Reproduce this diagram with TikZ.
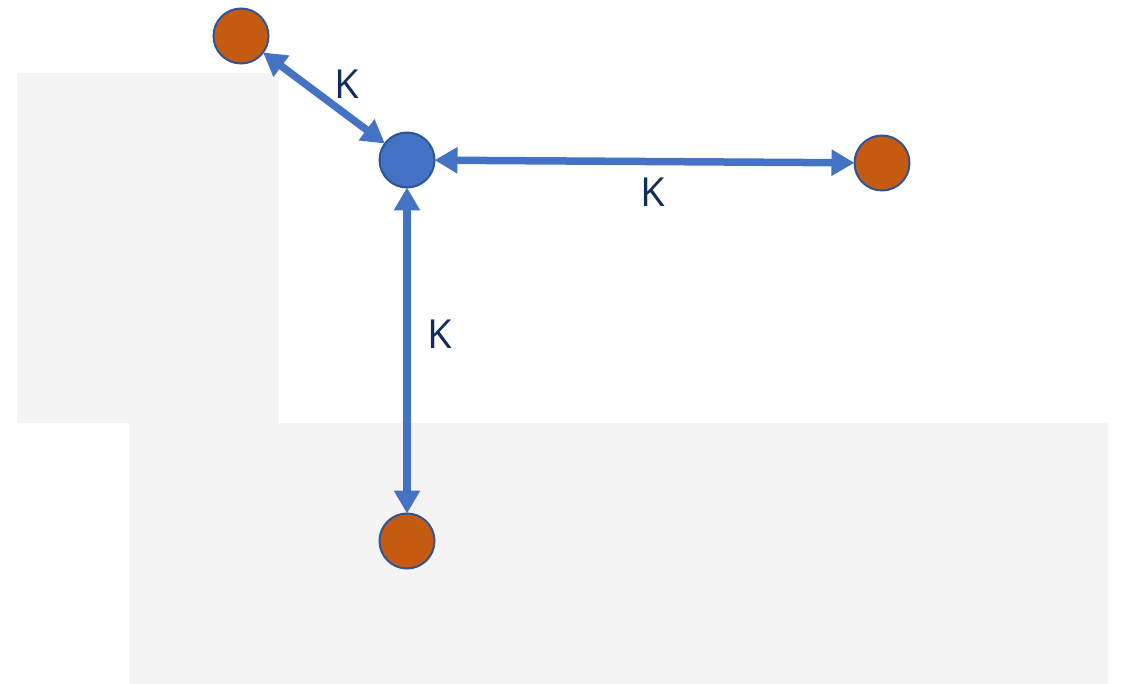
\documentclass[tikz,border=0pt]{standalone}
\usepackage{fontspec}
\setmainfont{Open Sans}
\usetikzlibrary{arrows.meta}
\definecolor{ablue}{HTML}{4472C4}
\definecolor{aorange}{HTML}{C55A11}
\definecolor{aedge}{HTML}{2F5597}
\definecolor{agray}{HTML}{F4F4F4}
\definecolor{atext}{HTML}{0F2D5C}
\tikzset{
  ball/.style={circle, draw=aedge, line width=2pt, inner sep=0pt, minimum size=55pt},
  oball/.style={ball, fill=aorange},
  bball/.style={ball, fill=ablue},
  link/.style={draw=ablue, line width=7.5pt, {Triangle[length=23pt,width=25pt]}-{Triangle[length=23pt,width=25pt]}, shorten <=-1pt, shorten >=-1pt},
  klabel/.style={text=atext, font=\fontsize{40}{40}\selectfont, inner sep=0pt}
}
\begin{document}
\begin{tikzpicture}[x=1pt,y=-1pt]
\useasboundingbox (0,0) rectangle (1127,684);
\fill[agray] (17,73) rectangle (279,423);
\fill[agray] (129,423) rectangle (1108,684);
\node[oball] (tl) at (241,36) {};
\node[bball] (c) at (407,160) {};
\node[oball] (r) at (882,163) {};
\node[oball] (b) at (407,541) {};
\draw[link] (tl) -- (c);
\draw[link] (c) -- (r);
\draw[link] (c) -- (b);
\node[klabel] (k1) at (347,84) {K};
\node[klabel] (k2) at (653,192) {K};
\node[klabel] (k3) at (440,334) {K};
\end{tikzpicture}
\end{document}
